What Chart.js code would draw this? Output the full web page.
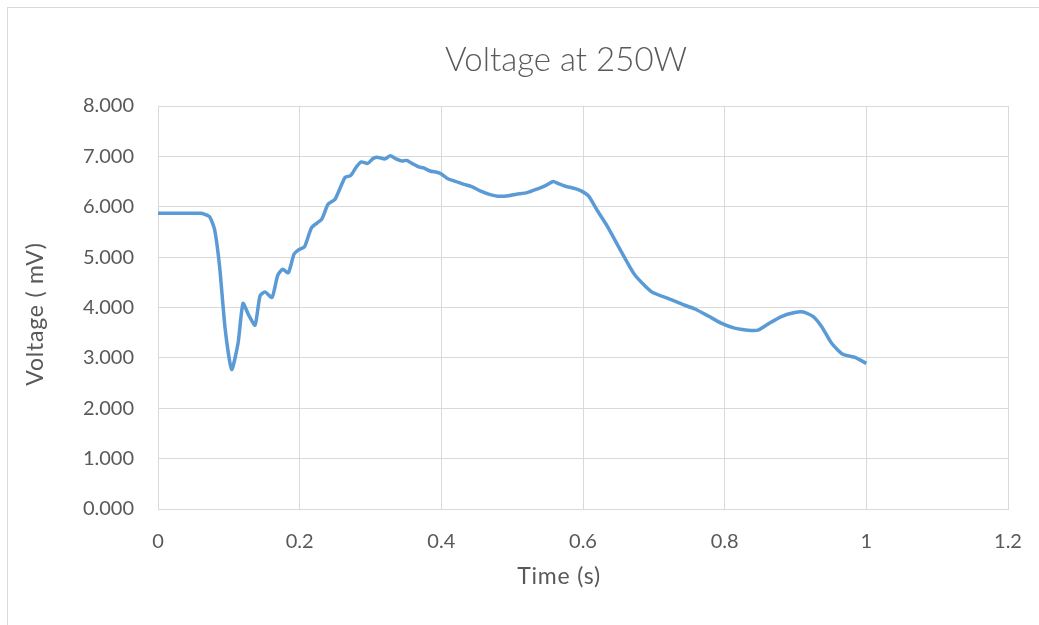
<!DOCTYPE html>
<html>
<head>
<meta charset="utf-8">
<style>
  html, body { margin: 0; padding: 0; background: #fff; }
  #wrap { position: relative; width: 1039px; height: 625px; }
  #frame { position: absolute; left: 7px; top: 7px; right: 0; bottom: 0;
           border-left: 1px solid #d9d9d9; border-top: 1px solid #d9d9d9; }
  canvas { position: absolute; left: 0; top: 0; }
</style>
<script src="https://cdn.jsdelivr.net/npm/chart.js@4/dist/chart.umd.min.js"></script>
</head>
<body>
<div id="wrap">
  <div id="frame"></div>
  <canvas id="c" width="1039" height="625"></canvas>
</div>
<script>
// Time samples (s)
const timeSec = [
  0, 0.02, 0.04, 0.06, 0.066, 0.073, 0.08, 0.087, 0.095, 0.104,
  0.113, 0.12, 0.128, 0.137, 0.144, 0.151, 0.161, 0.169, 0.176, 0.184,
  0.192, 0.198, 0.207, 0.217, 0.231, 0.24, 0.25, 0.264, 0.272, 0.28,
  0.287, 0.296, 0.304, 0.311, 0.32, 0.328, 0.336, 0.344, 0.351, 0.36,
  0.368, 0.375, 0.384, 0.395, 0.4, 0.41, 0.421, 0.431, 0.443, 0.454,
  0.469, 0.48, 0.495, 0.506, 0.521, 0.535, 0.547, 0.558, 0.565, 0.577,
  0.589, 0.598, 0.608, 0.62, 0.634, 0.654, 0.673, 0.697, 0.72, 0.739,
  0.758, 0.777, 0.795, 0.814, 0.833, 0.847, 0.861, 0.88, 0.899, 0.911,
  0.925, 0.937, 0.951, 0.967, 0.984, 1.0
];
// Measured voltage (mV)
const voltageMv = [
  5.87, 5.87, 5.87, 5.87, 5.85, 5.80, 5.54, 4.81, 3.55, 2.77,
  3.29, 4.08, 3.85, 3.65, 4.23, 4.31, 4.20, 4.64, 4.76, 4.69,
  5.06, 5.14, 5.21, 5.59, 5.75, 6.05, 6.15, 6.58, 6.62, 6.79,
  6.89, 6.86, 6.96, 6.98, 6.95, 7.01, 6.95, 6.91, 6.92, 6.85,
  6.79, 6.77, 6.71, 6.68, 6.65, 6.55, 6.50, 6.45, 6.40, 6.32,
  6.24, 6.21, 6.22, 6.25, 6.28, 6.35, 6.42, 6.50, 6.46, 6.40,
  6.36, 6.31, 6.21, 5.93, 5.62, 5.11, 4.65, 4.31, 4.18, 4.07,
  3.97, 3.83, 3.69, 3.59, 3.55, 3.55, 3.67, 3.82, 3.90, 3.91,
  3.82, 3.62, 3.29, 3.07, 3.01, 2.89
];
const chartTitle = 'Voltage at 250W';
const xTitle = 'Time (s)';
const yTitle = 'Voltage ( mV)';

const FONT = 'Lato, "Open Sans", sans-serif';
const TEXT = '#595959';
const GRID = '#d9d9d9';

const points = timeSec.map((t, i) => ({ x: t, y: voltageMv[i] }));

// Chart title and axis titles
const labelsPlugin = {
  id: 'labels',
  afterDraw(chart) {
    const { ctx } = chart;
    ctx.save();
    ctx.fillStyle = TEXT;
    ctx.textAlign = 'center';
    ctx.textBaseline = 'middle';
    ctx.font = '300 33px ' + FONT;
    ctx.fillText(chartTitle, 566, 60);
    ctx.font = '23px ' + FONT;
    ctx.letterSpacing = '0.8px';
    ctx.fillText(xTitle, 559, 577);
    ctx.translate(36, 314);
    ctx.rotate(-Math.PI / 2);
    ctx.fillText(yTitle, 0, 0);
    ctx.restore();
  }
};

new Chart(document.getElementById('c'), {
  type: 'line',
  data: {
    datasets: [{
      data: points,
      borderColor: '#5b9bd5',
      borderWidth: 3.5,
      pointRadius: 0,
      tension: 0.2,
      fill: false
    }]
  },
  options: {
    responsive: false,
    animation: false,
    events: [],
    layout: { padding: { left: 0, top: 106, right: 31, bottom: 0 } },
    plugins: { legend: { display: false }, tooltip: { enabled: false }, title: { display: false } },
    scales: {
      x: {
        type: 'linear',
        min: 0, max: 1.2,
        afterFit(s) { s.height = 116; s.paddingRight = 0; },
        grid: { color: GRID, lineWidth: 1, drawTicks: false },
        border: { color: GRID, width: 1 },
        ticks: {
          stepSize: 0.2,
          padding: 21,
          color: TEXT,
          font: { family: FONT, size: 20 },
          maxRotation: 0,
          callback: v => String(Number(v.toFixed(1)))
        }
      },
      y: {
        min: 0, max: 8,
        afterFit(s) { s.width = 158; },
        grid: { color: GRID, lineWidth: 1, drawTicks: false },
        border: { color: GRID, width: 1 },
        ticks: {
          stepSize: 1,
          padding: 24,
          color: TEXT,
          font: { family: FONT, size: 20 },
          callback: v => v.toFixed(3)
        }
      }
    }
  },
  plugins: [labelsPlugin]
});
</script>
</body>
</html>
